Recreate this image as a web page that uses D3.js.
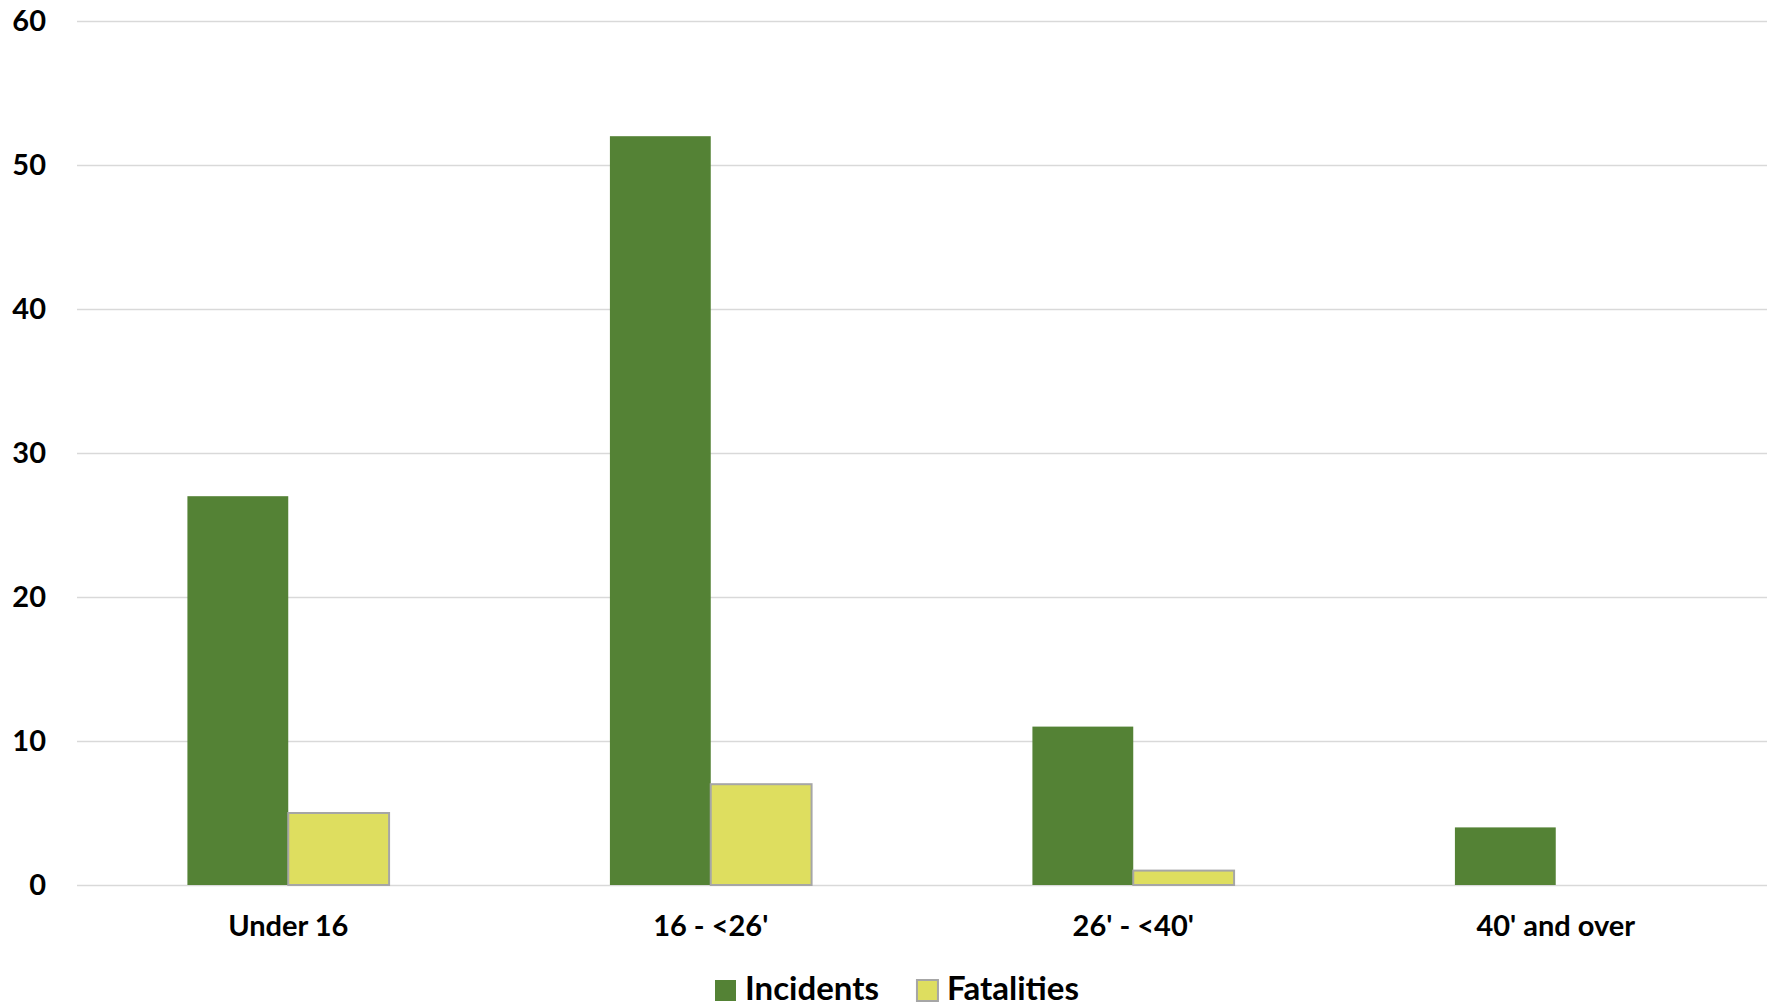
<!DOCTYPE html>
<html>
<head>
<meta charset="utf-8">
<script src="https://cdn.jsdelivr.net/npm/d3@7"></script>
<style>
  html, body { margin: 0; padding: 0; background: #fff; }
  svg { display: block; }
  text { font-family: Lato, "Open Sans", sans-serif; font-weight: 700; fill: #000; }
</style>
</head>
<body>
<svg id="chart" width="1769" height="1007"></svg>
<script>
const categories = ["Under 16", "16 - <26'", "26' - <40'", "40' and over"];
const incidents = [27, 52, 11, 4];
const fatalities = [5, 7, 1, 0];
const seriesNames = ["Incidents", "Fatalities"];
const yTicks = [0, 10, 20, 30, 40, 50, 60];

const colors = { Incidents: "#548235", Fatalities: "#DEDE5F" };
const strokes = { Incidents: "none", Fatalities: "#A6A6A6" };

const W = 1769, H = 1007;
const margin = { left: 77, right: 2, top: 21, bottom: 122 };
const svg = d3.select("#chart");

const x = d3.scaleBand().domain(categories).range([margin.left, W - margin.right]).paddingInner(0).paddingOuter(0);
const y = d3.scaleLinear().domain([0, 60]).range([H - margin.bottom, margin.top]);

// gridlines
const yAxis = d3.axisLeft(y).tickValues(yTicks).tickSize(-(W - margin.right - margin.left)).tickPadding(31).tickFormat(d3.format("d"));
const gy = svg.append("g").attr("transform", `translate(${margin.left},0)`).call(yAxis);
gy.select(".domain").remove();
gy.selectAll(".tick line").attr("stroke", "#D9D9D9").attr("stroke-width", 1.5);
gy.selectAll(".tick text").attr("font-size", 29).attr("font-family", "Lato").attr("font-weight", 700).attr("fill", "#000");

// bars
const bw = x.bandwidth() / (2 + 2.19);
const sub = d3.scaleBand().domain(seriesNames).range([x.bandwidth() / 2 - bw, x.bandwidth() / 2 + bw]);
const data = categories.map((c, i) => ({ cat: c, vals: [{ s: "Incidents", v: incidents[i] }, { s: "Fatalities", v: fatalities[i] }] }));

const groups = svg.append("g").selectAll("g").data(data).join("g")
  .attr("transform", d => `translate(${x(d.cat)},0)`);
groups.selectAll("rect").data(d => d.vals.filter(e => e.v > 0)).join("rect")
  .attr("x", d => sub(d.s))
  .attr("width", sub.bandwidth())
  .attr("y", d => y(d.v))
  .attr("height", d => y(0) - y(d.v))
  .attr("fill", d => colors[d.s])
  .attr("stroke", d => strokes[d.s])
  .attr("stroke-width", 2);

// x axis labels
const xAxis = d3.axisBottom(x).tickSize(0).tickPadding(0);
const gx = svg.append("g").attr("transform", `translate(0,${y(0)})`).call(xAxis);
gx.select(".domain").remove();
gx.selectAll(".tick text").attr("font-size", 29).attr("font-family", "Lato").attr("font-weight", 700).attr("fill", "#000")
  .attr("dy", null).attr("y", 51);

// legend
const lg = svg.append("g");
let lx = 715;
seriesNames.forEach((s, i) => {
  lg.append("rect").attr("x", lx).attr("y", 980).attr("width", 21).attr("height", 21)
    .attr("fill", colors[s]).attr("stroke", strokes[s]).attr("stroke-width", 2);
  const t = lg.append("text").attr("x", lx + 30).attr("y", 1000).attr("font-size", 33).text(s);
  const tw = t.node().getComputedTextLength();
  lx = lx + 30 + tw + 38;
});
</script>
</body>
</html>
